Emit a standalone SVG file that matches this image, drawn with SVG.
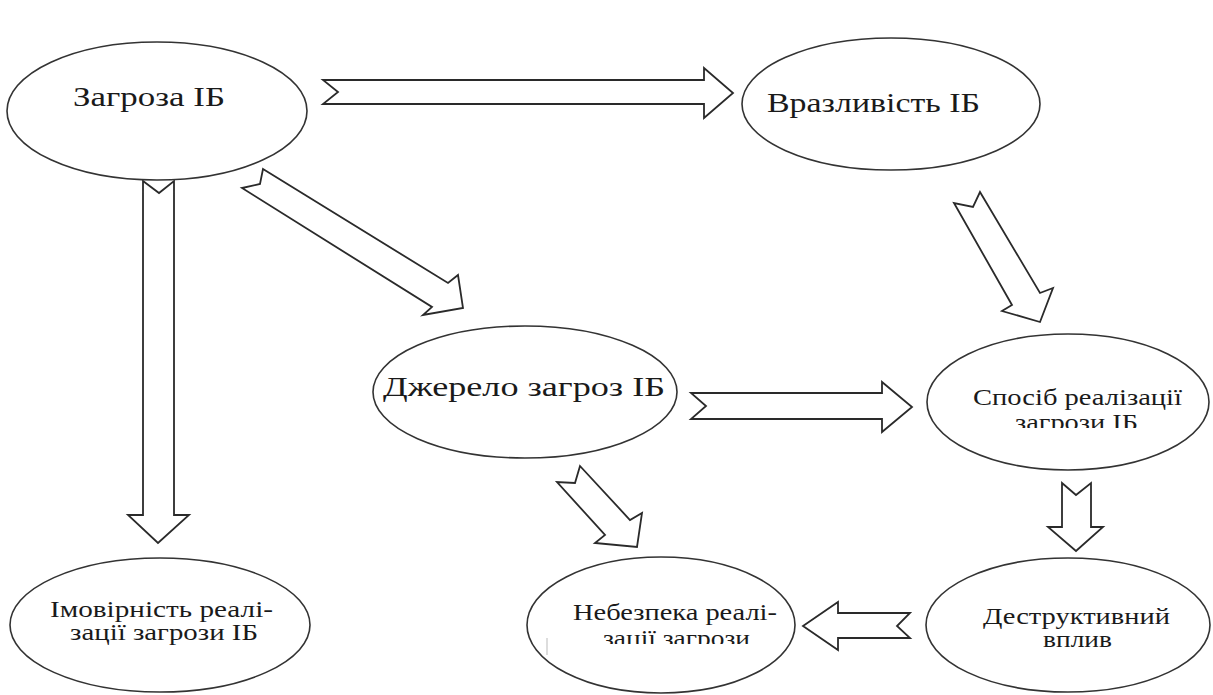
<svg xmlns="http://www.w3.org/2000/svg" width="1213" height="695" viewBox="0 0 1213 695">
  <style>
    .node ellipse { fill: #ffffff; stroke: #333333; stroke-width: 1.6; }
    .big { font-size: 28px; }
    .small { font-size: 23px; }
    .arrows polygon { fill: #ffffff; stroke: #2a2a2a; stroke-width: 1.8; stroke-linejoin: miter; }
  </style>
  <defs>
    <clipPath id="clipSposib"><rect x="900" y="330" width="313" height="98"/></clipPath>
    <clipPath id="clipNebezpeka"><rect x="520" y="550" width="290" height="94"/></clipPath>
  </defs>
  <rect width="1213" height="695" fill="#ffffff"/>

  <!-- block arrows between the nodes -->
  <g id="connectors" class="arrows">
    <!-- Загроза -> Вразливість -->
    <polygon points="323,80 704,80 704,68 733,93 704,118 704,104 323,104 338,92"/>
    <!-- Загроза -> Імовірність -->
    <polygon points="143,181 159,193 174,181 174,515 189,515 158,543 128,515 143,515"/>
    <!-- Загроза -> Джерело -->
    <polygon points="263,169 448,283 458,275 463,308 423,315 432,307 242,188 260,184"/>
    <!-- Вразливість -> Спосіб -->
    <polygon points="980,192 1040,293 1053,288 1040,322 1002,311 1012,305 954,203 973,207"/>
    <!-- Джерело -> Спосіб -->
    <polygon points="691,393 882,393 882,382 912,407 882,432 882,419 691,419 706,406"/>
    <!-- Джерело -> Небезпека -->
    <polygon points="580,466 630,520 642,513 637,547 595,543 605,535 557,482 575,483"/>
    <!-- Спосіб -> Деструктивний -->
    <polygon points="1062,483 1076,495 1091,483 1091,527 1103,527 1076,551 1048,527 1062,527"/>
    <!-- Деструктивний -> Небезпека -->
    <polygon points="910,613 838,613 838,602 803,626 838,650 838,638 910,638 897,626"/>
  </g>

  <g font-family="'Liberation Serif', 'Times New Roman', Times, serif" fill="#1a1a1a">
    <g id="node-zagroza" class="node">
      <ellipse cx="157" cy="111" rx="150" ry="69"/>
      <text class="big" x="73" y="106" textLength="152" lengthAdjust="spacingAndGlyphs">Загроза ІБ</text>
    </g>

    <g id="node-vrazlyvist" class="node">
      <ellipse cx="891" cy="104" rx="149" ry="66"/>
      <text class="big" x="767" y="112" textLength="213" lengthAdjust="spacingAndGlyphs">Вразливість ІБ</text>
    </g>

    <g id="node-dzherelo" class="node">
      <ellipse cx="525" cy="392" rx="152" ry="66"/>
      <text class="big" x="383" y="396" textLength="282" lengthAdjust="spacingAndGlyphs">Джерело загроз ІБ</text>
    </g>

    <g id="node-sposib" class="node">
      <ellipse cx="1068" cy="402" rx="141" ry="68"/>
      <text class="small" x="973" y="405" textLength="209" lengthAdjust="spacingAndGlyphs">Спосіб реалізації</text>
      <text class="small" x="1015" y="430" textLength="123" lengthAdjust="spacingAndGlyphs" clip-path="url(#clipSposib)">загрози ІБ</text>
    </g>

    <g id="node-destruktyvnyi" class="node">
      <ellipse cx="1068" cy="625" rx="142" ry="67"/>
      <text class="small" x="983" y="624" textLength="187" lengthAdjust="spacingAndGlyphs">Деструктивний</text>
      <text class="small" x="1043" y="647" textLength="69" lengthAdjust="spacingAndGlyphs">вплив</text>
    </g>

    <g id="node-nebezpeka" class="node">
      <ellipse cx="661" cy="625" rx="134" ry="68"/>
      <text class="small" x="573" y="620" textLength="204" lengthAdjust="spacingAndGlyphs">Небезпека реалі-</text>
      <text class="small" x="603" y="646" textLength="147" lengthAdjust="spacingAndGlyphs" clip-path="url(#clipNebezpeka)">зації загрози</text>
      <line x1="547" y1="638" x2="547" y2="655" stroke="#bbbbbb" stroke-width="1"/>
    </g>

    <g id="node-imovirnist" class="node">
      <ellipse cx="160" cy="625" rx="150" ry="67"/>
      <text class="small" x="50" y="617" textLength="223" lengthAdjust="spacingAndGlyphs">Імовірність реалі-</text>
      <text class="small" x="70" y="640" textLength="188" lengthAdjust="spacingAndGlyphs">зації загрози ІБ</text>
    </g>
  </g>
</svg>
